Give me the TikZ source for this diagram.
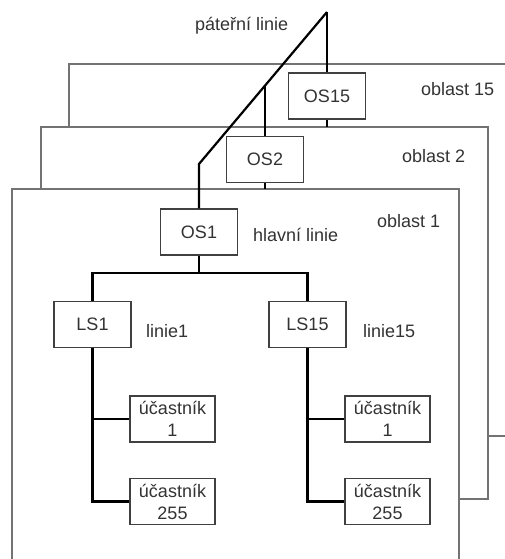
\documentclass[tikz,border=0pt]{standalone}
\usepackage{fontspec}
\setmainfont{Liberation Sans}
\usetikzlibrary{calc}
\begin{document}
\begin{tikzpicture}[x=1pt,y=-1pt,
  txt/.style={font=\fontsize{18}{22}\selectfont, text=black!80},
  area/.style={draw=black!55, line width=1.3pt, fill=white},
  dev/.style={draw=black!75, line width=1.3pt, fill=white, txt, inner sep=1pt, minimum width=77pt, minimum height=46pt},
  part/.style={draw=black!75, line width=1.3pt, fill=white, txt, inner sep=1pt, align=center, minimum width=85pt, minimum height=46pt},
  lbl/.style={txt, anchor=west, inner sep=0pt},
  bus/.style={draw=black, line width=2.2pt}
]
\useasboundingbox (0,0) rectangle (505,559);
\clip (0,0) rectangle (505,559);
% areas
\draw[area] (69,64) rectangle (530,436);
\draw[area] (41,127) rectangle (488,499);
\draw[area] (12,189) rectangle (459,580);
% devices
\node[dev] (OS15) at (327,96) {OS15};
\node[dev] (OS2) at (265,159.5) {OS2};
\node[dev] (OS1) at (199,232) {OS1};
\node[dev] (LS1) at (92.5,324.5) {LS1};
\node[dev] (LS15) at (307.5,324.5) {LS15};
\node[part] (u1a) at (172.5,419) {účastník\\1};
\node[part] (u255a) at (172.5,501.5) {účastník\\255};
\node[part] (u1b) at (387.5,419) {účastník\\1};
\node[part] (u255b) at (387.5,501.5) {účastník\\255};
% labels
\node[lbl] (lp) at (195,26) {páteřní linie};
\node[lbl] (l15) at (421,89) {oblast 15};
\node[lbl] (l2) at (402,156) {oblast 2};
\node[lbl] (l1) at (377,221) {oblast 1};
\node[lbl] (lh) at (253,235) {hlavní linie};
\node[lbl] (ll1) at (146,331) {linie1};
\node[lbl] (ll15) at (363,331) {linie15};
% coordinates
\coordinate (top) at (327,12);
\coordinate (bend) at (199,164);
\coordinate (j2) at ($(top)!0.484!(bend)$);
\coordinate (e15) at (327,127);
\coordinate (e2) at (265,189);
\coordinate (busc) at (199,273);
% backbone
\draw[bus, line join=miter] (top) -- (bend) -- (OS1.north);
\draw[bus] (OS15.north) -- (top);
\draw[bus] (OS15.south) -- (e15);
\draw[bus] (OS2.north) -- (OS2.north |- j2);
\draw[bus] (OS2.south) -- (e2);
% main line
\draw[bus] (OS1.south) -- (busc);
\draw[bus] (LS1.north) |- (busc) -| (LS15.north);
% lines
\draw[bus] (LS1.south) |- (u255a.west);
\draw[bus] (LS1.south |- u1a.west) -- (u1a.west);
\draw[bus] (LS15.south) |- (u255b.west);
\draw[bus] (LS15.south |- u1b.west) -- (u1b.west);
\end{tikzpicture}
\end{document}
